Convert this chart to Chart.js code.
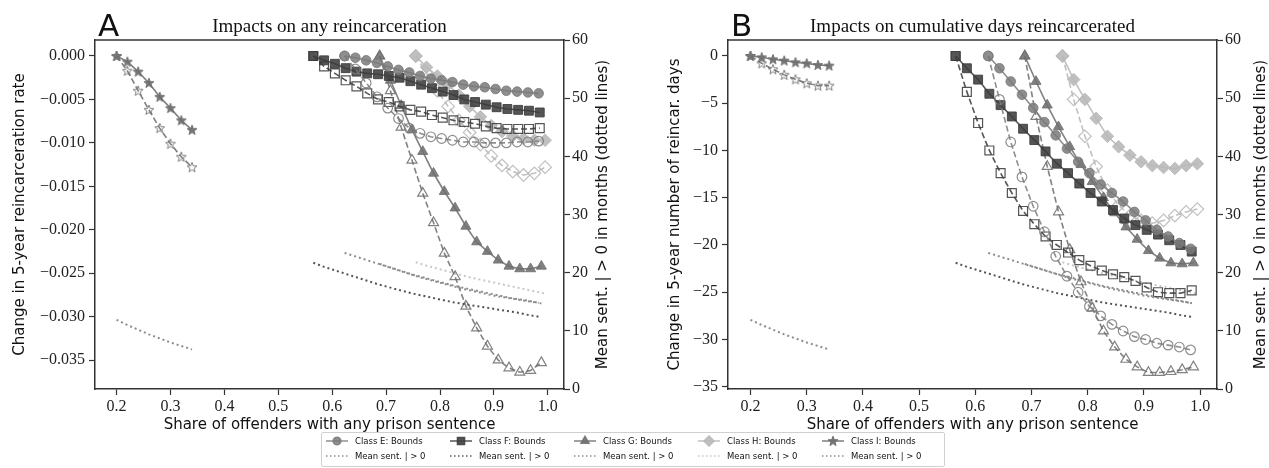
<!DOCTYPE html>
<html>
<head>
<meta charset="utf-8">
<script src="https://cdn.jsdelivr.net/npm/chart.js@4.4.1/dist/chart.umd.min.js"></script>
<style>
  body { margin: 0; background: #fff; width: 1269px; height: 468px; overflow: hidden; position: relative; }
  canvas.panel { position: absolute; top: 0; }
  #panelA { left: 0; }
  #panelB { left: 640px; }
  .legend { position: absolute; left: 321px; top: 432px; width: 622px; height: 33px; border: 1px solid #d0d0d0; border-radius: 2px; background: #fff; }
  .entry { position: absolute; display: flex; align-items: center; font: 8.5px "DejaVu Sans", sans-serif; color: #111; white-space: nowrap; }
  .entry canvas { margin-right: 7px; }
</style>
</head>
<body>
<canvas id="panelA" class="panel" width="640" height="440"></canvas>
<canvas id="panelB" class="panel" width="629" height="440"></canvas>
<div class="legend" id="legend"></div>
<script>
// share of offenders with a prison sentence, one grid per class
const xE = [0.623, 0.643, 0.663, 0.683, 0.703, 0.723, 0.743, 0.763, 0.783, 0.803, 0.823, 0.843, 0.863, 0.883, 0.903, 0.923, 0.943, 0.963, 0.983]
const xF = [0.565, 0.585, 0.605, 0.625, 0.645, 0.665, 0.685, 0.705, 0.725, 0.745, 0.765, 0.785, 0.805, 0.825, 0.845, 0.865, 0.885, 0.905, 0.925, 0.945, 0.965, 0.985]
const xG = [0.688, 0.708, 0.728, 0.748, 0.768, 0.788, 0.808, 0.828, 0.848, 0.868, 0.888, 0.908, 0.928, 0.948, 0.968, 0.988]
const xH = [0.755, 0.775, 0.795, 0.815, 0.835, 0.855, 0.875, 0.895, 0.915, 0.935, 0.955, 0.975, 0.995]
const xI = [0.20, 0.22, 0.24, 0.26, 0.28, 0.30, 0.32, 0.34]

// A: change in 5-year reincarceration rate (upper = solid, lower = dashed)
const anyUpperE = [0, -0.0002, -0.0005, -0.0008, -0.0012, -0.0016, -0.0019, -0.0023, -0.0026, -0.0028, -0.0030, -0.0033, -0.0035, -0.0036, -0.0038, -0.0040, -0.0041, -0.0042, -0.0043]
const anyLowerE = [0, -0.0015, -0.0031, -0.0047, -0.0060, -0.0072, -0.0083, -0.0089, -0.0093, -0.0095, -0.0097, -0.0099, -0.0099, -0.0100, -0.0100, -0.0100, -0.0099, -0.0099, -0.0098]
const anyUpperF = [0, -0.0005, -0.0009, -0.0014, -0.0018, -0.0020, -0.0021, -0.0023, -0.0025, -0.0029, -0.0033, -0.0037, -0.0041, -0.0045, -0.0050, -0.0053, -0.0056, -0.0059, -0.0061, -0.0062, -0.0063, -0.0065]
const anyLowerF = [0, -0.0012, -0.0020, -0.0028, -0.0035, -0.0043, -0.0050, -0.0053, -0.0058, -0.0062, -0.0064, -0.0068, -0.0071, -0.0074, -0.0076, -0.0078, -0.0081, -0.0083, -0.0084, -0.0084, -0.0084, -0.0083]
const anyUpperG = [0, -0.0028, -0.0057, -0.0085, -0.0110, -0.0135, -0.0156, -0.0175, -0.0196, -0.0214, -0.0225, -0.0235, -0.0242, -0.0245, -0.0245, -0.0242]
const anyLowerG = [0, -0.0040, -0.0082, -0.0120, -0.0158, -0.0192, -0.0227, -0.0254, -0.0288, -0.0313, -0.0334, -0.0350, -0.0359, -0.0364, -0.0362, -0.0353]
const anyUpperH = [0, -0.0013, -0.0023, -0.0033, -0.0045, -0.0058, -0.0070, -0.0080, -0.0087, -0.0092, -0.0095, -0.0097, -0.0097]
const anyLowerH = [0, -0.0020, -0.0040, -0.0058, -0.0074, -0.0088, -0.0102, -0.0115, -0.0126, -0.0133, -0.0137, -0.0135, -0.0128]
const anyUpperI = [0, -0.00065, -0.0018, -0.0031, -0.0047, -0.0060, -0.0074, -0.0085]
const anyLowerI = [0, -0.0017, -0.0040, -0.0062, -0.0083, -0.0101, -0.0116, -0.0128]

// B: change in 5-year number of reincarcerated days
const daysUpperE = [0, -1.3, -2.7, -4.1, -5.5, -7.0, -8.4, -9.8, -11.2, -12.4, -13.6, -14.5, -15.4, -16.5, -17.4, -18.4, -19.1, -19.8, -20.4]
const daysLowerE = [0, -4.6, -9.1, -12.8, -15.9, -18.6, -21.2, -23.3, -25.0, -26.5, -27.5, -28.4, -29.1, -29.7, -30.0, -30.4, -30.6, -30.8, -31.1]
const daysUpperF = [0, -1.3, -2.5, -4.0, -5.2, -6.4, -7.7, -8.9, -10.1, -11.4, -12.4, -13.5, -14.5, -15.4, -16.3, -17.2, -17.9, -18.4, -18.9, -19.5, -20.0, -20.7]
const daysLowerF = [0, -3.8, -7.1, -10.0, -12.4, -14.5, -16.4, -17.8, -19.1, -20.0, -20.8, -21.6, -22.2, -22.7, -23.1, -23.4, -23.8, -24.5, -25.0, -25.1, -25.1, -24.8]
const daysUpperG = [0, -2.7, -5.2, -7.5, -9.6, -11.5, -13.3, -15.0, -16.6, -18.1, -19.4, -20.6, -21.4, -21.9, -22.0, -21.9]
const daysLowerG = [0, -6.4, -11.7, -16.5, -20.5, -23.9, -26.7, -29.1, -30.8, -32.1, -32.9, -33.5, -33.5, -33.4, -33.2, -32.9]
const daysUpperH = [0, -2.5, -4.6, -6.6, -8.5, -9.6, -10.5, -11.2, -11.6, -11.8, -11.9, -11.6, -11.4]
const daysLowerH = [0, -4.6, -8.5, -11.7, -14.2, -15.8, -16.9, -17.4, -17.7, -17.4, -16.9, -16.5, -16.2]
const daysUpperI = [0, -0.14, -0.35, -0.49, -0.67, -0.78, -0.95, -1.02]
const daysLowerI = [0, -0.78, -1.41, -2.0, -2.47, -2.89, -3.14, -3.14]

// mean sentence length (months) among those sentenced, right axis
const meanSentE = [23.4, 22.8, 22.2, 21.6, 21.0, 20.4, 19.8, 19.2, 18.7, 18.2, 17.7, 17.2, 16.8, 16.4, 16.0, 15.7, 15.4, 15.1, 14.8]
const meanSentF = [21.7, 21.0, 20.4, 19.8, 19.2, 18.6, 18.0, 17.5, 17.0, 16.5, 16.1, 15.7, 15.3, 14.9, 14.6, 14.3, 14.0, 13.7, 13.4, 13.1, 12.7, 12.4]
const meanSentG = [21.5, 20.9, 20.3, 19.7, 19.2, 18.7, 18.2, 17.7, 17.3, 16.9, 16.5, 16.1, 15.7, 15.4, 15.1, 14.7]
const meanSentH = [21.8, 21.2, 20.7, 20.2, 19.7, 19.2, 18.8, 18.4, 18.0, 17.6, 17.2, 16.8, 16.4]
const meanSentI = [11.9, 11.0, 10.2, 9.4, 8.7, 8.0, 7.4, 6.8]

// tick labels
const xTicks = [0.2, 0.3, 0.4, 0.5, 0.6, 0.7, 0.8, 0.9, 1.0]
const anyTicks = [-0.035, -0.030, -0.025, -0.020, -0.015, -0.010, -0.005, 0]
const daysTicks = [-35, -30, -25, -20, -15, -10, -5, 0]
const sentTicks = [0, 10, 20, 30, 40, 50, 60]

const classNames = ['E', 'F', 'G', 'H', 'I']

// five-point star marker as a small canvas
const makeStar = (color, filled) => {
    const cv = document.createElement('canvas')
    cv.width = 12
    cv.height = 12
    const c = cv.getContext('2d')
    c.beginPath()
    for (let k = 0; k < 10; k++) {
        const r = k % 2 ? 2.2 : 5.2
        const a = -Math.PI / 2 + k * Math.PI / 5
        c.lineTo(6 + r * Math.cos(a), 6.4 + r * Math.sin(a))
    }
    c.closePath()
    c.lineWidth = 1
    c.strokeStyle = color
    if (filled) {
        c.fillStyle = color
        c.fill()
    }
    c.stroke()
    return cv
}

const style = {
    E: { color: 'rgba(122,122,122,0.85)', dot: '#8c8c8c', point: 'circle', radius: 4.8 },
    F: { color: 'rgba(62,62,62,0.88)', dot: '#555555', point: 'rect', radius: 6.3 },
    G: { color: 'rgba(112,112,112,0.88)', dot: '#8c8c8c', point: 'triangle', radius: 5.8 },
    H: { color: 'rgba(185,185,185,0.9)', dot: '#c8c8c8', point: 'rectRot', radius: 6.3 },
    I: { color: 'rgba(112,112,112,0.9)', dot: '#8c8c8c', point: makeStar('rgba(112,112,112,0.95)', true), radius: 5 }
}
const hollowStar = makeStar('rgba(120,120,120,0.95)', false)

const series = {
    E: { x: xE, any: [anyUpperE, anyLowerE], days: [daysUpperE, daysLowerE], sent: meanSentE },
    F: { x: xF, any: [anyUpperF, anyLowerF], days: [daysUpperF, daysLowerF], sent: meanSentF },
    G: { x: xG, any: [anyUpperG, anyLowerG], days: [daysUpperG, daysLowerG], sent: meanSentG },
    H: { x: xH, any: [anyUpperH, anyLowerH], days: [daysUpperH, daysLowerH], sent: meanSentH },
    I: { x: xI, any: [anyUpperI, anyLowerI], days: [daysUpperI, daysLowerI], sent: meanSentI }
}

const pts = (xs, ys) => xs.map((x, i) => ({ x: x, y: ys[i] }))

const buildDatasets = (key) => {
    let sets = []
    classNames.forEach(name => {
        const s = series[name]
        const st = style[name]
        const [upper, lower] = s[key]
        sets.push({
            data: pts(s.x, upper),
            showLine: true,
            borderColor: st.color,
            borderWidth: 1.6,
            pointStyle: st.point,
            pointRadius: st.radius,
            pointBackgroundColor: st.color,
            pointBorderColor: st.color,
            pointBorderWidth: 1,
            yAxisID: 'y'
        })
        sets.push({
            data: pts(s.x, lower),
            showLine: true,
            borderColor: st.color,
            borderWidth: 1.6,
            borderDash: [6, 3],
            pointStyle: name === 'I' ? hollowStar : st.point,
            pointRadius: st.radius,
            pointBackgroundColor: 'rgba(0,0,0,0)',
            pointBorderColor: st.color,
            pointBorderWidth: 1.2,
            yAxisID: 'y'
        })
        sets.push({
            data: pts(s.x, s.sent),
            showLine: true,
            borderColor: st.dot,
            borderWidth: 2,
            borderDash: [2, 3],
            pointRadius: 0,
            yAxisID: 'y2'
        })
    })
    return sets
}

// frame top edge, panel letter, title, right axis label
const panelText = {
    id: 'panelText',
    afterDraw(chart, args, opts) {
        const { ctx, chartArea } = chart
        ctx.save()
        ctx.strokeStyle = '#333'
        ctx.lineWidth = 1.5
        ctx.beginPath()
        ctx.moveTo(chartArea.left - 0.75, chartArea.top)
        ctx.lineTo(chartArea.right + 0.75, chartArea.top)
        ctx.stroke()

        ctx.fillStyle = '#111'
        ctx.textBaseline = 'alphabetic'
        ctx.font = '31px "DejaVu Sans"'
        ctx.textAlign = 'left'
        ctx.fillText(opts.letter, chartArea.left + 3, 36)

        ctx.font = '19px "Liberation Serif"'
        ctx.textAlign = 'center'
        ctx.fillText(opts.title, (chartArea.left + chartArea.right) / 2, 32)

        ctx.translate(opts.rightTitleX, (chartArea.top + chartArea.bottom) / 2)
        ctx.rotate(-Math.PI / 2)
        ctx.font = '15px "DejaVu Sans"'
        ctx.textBaseline = 'middle'
        ctx.fillText('Mean sent. | > 0 in months (dotted lines)', 0, 0)
        ctx.restore()
    }
}

const tickFont = { family: '"Liberation Serif"', size: 16 }
const titleFont = { family: '"DejaVu Sans"', size: 15 }

const makePanel = (canvasId, key, opts) => {
    return new Chart(document.getElementById(canvasId), {
        type: 'scatter',
        data: { datasets: buildDatasets(key) },
        plugins: [panelText],
        options: {
            responsive: false,
            animation: false,
            layout: { padding: { top: 40, left: 0, right: 0, bottom: 0 } },
            plugins: {
                legend: { display: false },
                tooltip: { enabled: false },
                panelText: { letter: opts.letter, title: opts.title, rightTitleX: opts.rightTitleX }
            },
            scales: {
                x: {
                    type: 'linear',
                    min: 0.16,
                    max: 1.03,
                    afterBuildTicks: s => { s.ticks = xTicks.map(v => ({ value: v })) },
                    afterFit: s => { s.height = 51 },
                    ticks: { font: tickFont, color: '#222', padding: 2, maxRotation: 0, callback: v => v.toFixed(1) },
                    grid: { drawOnChartArea: false, tickLength: 6, color: '#333', tickWidth: 1.2 },
                    border: { color: '#333', width: 1.5 },
                    title: { display: true, text: 'Share of offenders with any prison sentence', font: titleFont, color: '#111', padding: { top: 0, bottom: 6 } }
                },
                y: {
                    position: 'left',
                    min: opts.yMin,
                    max: opts.yMax,
                    afterBuildTicks: s => { s.ticks = opts.yTicks.map(v => ({ value: v })) },
                    afterFit: s => { s.width = opts.leftWidth },
                    ticks: { font: tickFont, color: '#222', padding: 4, callback: opts.yFormat },
                    grid: { drawOnChartArea: false, tickLength: 6, color: '#333', tickWidth: 1.2 },
                    border: { color: '#333', width: 1.5 },
                    title: { display: true, text: opts.yTitle, font: titleFont, color: '#111', padding: { top: opts.yTitlePad, bottom: 0 } }
                },
                y2: {
                    position: 'right',
                    min: 0,
                    max: 60,
                    afterBuildTicks: s => { s.ticks = sentTicks.map(v => ({ value: v })) },
                    afterFit: s => { s.width = opts.rightWidth },
                    ticks: { font: tickFont, color: '#222', padding: 2 },
                    grid: { drawOnChartArea: false, tickLength: 6, color: '#333', tickWidth: 1.2 },
                    border: { color: '#333', width: 1.5 }
                }
            }
        }
    })
}

makePanel('panelA', 'any', {
    letter: 'A',
    title: 'Impacts on any reincarceration',
    rightTitleX: 603,
    yMin: -0.03833,
    yMax: 0.00184,
    yTicks: anyTicks,
    yFormat: v => v === 0 ? '0.000' : '\u2212' + Math.abs(v).toFixed(3),
    yTitle: 'Change in 5-year reincarceration rate',
    yTitlePad: 11,
    leftWidth: 95,
    rightWidth: 76
})

makePanel('panelB', 'days', {
    letter: 'B',
    title: 'Impacts on cumulative days reincarcerated',
    rightTitleX: 621,
    yMin: -35.24,
    yMax: 1.69,
    yTicks: daysTicks,
    yFormat: v => v === 0 ? '0' : '\u2212' + Math.abs(v),
    yTitle: 'Change in 5-year number of reincar. days',
    yTitlePad: 26,
    leftWidth: 88,
    rightWidth: 52
})

// legend: one column per class, bounds on top, mean sentence below
const legend = document.getElementById('legend')
const drawSwatch = (cv, name, dotted) => {
    const c = cv.getContext('2d')
    const st = style[name]
    c.strokeStyle = dotted ? st.dot : st.color
    c.lineWidth = 1.5
    c.setLineDash(dotted ? [1.5, 2.5] : [])
    c.beginPath()
    c.moveTo(0, 6)
    c.lineTo(22, 6)
    c.stroke()
    if (!dotted) {
        c.setLineDash([])
        c.fillStyle = st.color
        c.strokeStyle = st.color
        Chart.helpers.drawPoint(c, { pointStyle: st.point, radius: st.radius * 0.8, borderWidth: 1, rotation: 0 }, 11, 6)
    }
}
classNames.forEach((name, i) => {
    [false, true].forEach((dotted, row) => {
        const entry = document.createElement('div')
        entry.className = 'entry'
        entry.style.left = (4 + i * 124) + 'px'
        entry.style.top = (2 + row * 15) + 'px'
        const cv = document.createElement('canvas')
        cv.width = 22
        cv.height = 12
        drawSwatch(cv, name, dotted)
        entry.appendChild(cv)
        const label = document.createElement('span')
        label.textContent = dotted ? 'Mean sent. | > 0' : 'Class ' + name + ': Bounds'
        entry.appendChild(label)
        legend.appendChild(entry)
    })
})
</script>
</body>
</html>
